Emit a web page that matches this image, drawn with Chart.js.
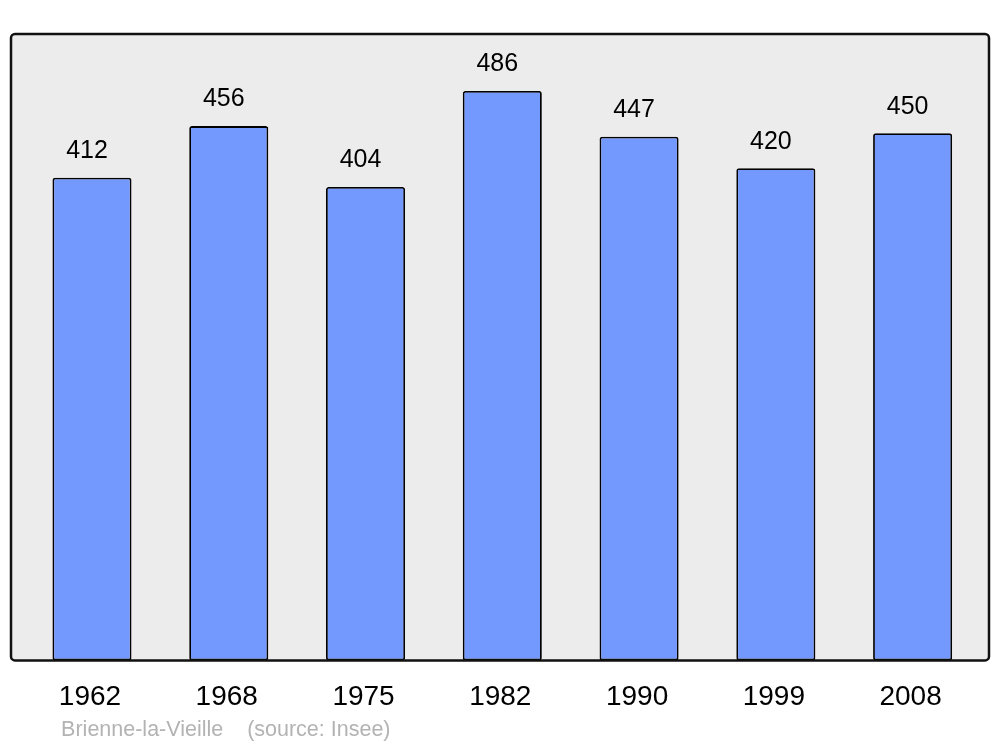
<!DOCTYPE html>
<html>
<head>
<meta charset="utf-8">
<script src="https://cdn.jsdelivr.net/npm/chart.js@4/dist/chart.umd.min.js"></script>
<style>
html,body{margin:0;padding:0;background:#fff;}
#c{display:block;}
</style>
</head>
<body>
<canvas id="c" width="1000" height="747"></canvas>
<script>
const years = ["1962","1968","1975","1982","1990","1999","2008"];
const population = [412, 456, 404, 486, 447, 420, 450];
const sourceText = "Brienne-la-Vieille    (source: Insee)";

const FONT = "'Liberation Sans', Arial, sans-serif";

const framePlugin = {
  id: 'frame',
  beforeDatasetsDraw(chart) {
    const {ctx, chartArea: a} = chart;
    ctx.save();
    const x0 = a.left - 12.6, x1 = a.right + 8;
    ctx.beginPath();
    ctx.roundRect(x0, a.top, x1 - x0, a.bottom - a.top, 4);
    ctx.fillStyle = '#ececec';
    ctx.fill();
    ctx.restore();
  },
  afterDatasetsDraw(chart) {
    const {ctx, chartArea: a} = chart;
    ctx.save();
    const x0 = a.left - 12.6, x1 = a.right + 8;
    ctx.beginPath();
    ctx.roundRect(x0, a.top, x1 - x0, a.bottom - a.top, 4);
    ctx.lineWidth = 2.5;
    ctx.strokeStyle = '#111';
    ctx.stroke();
    // value labels
    const meta = chart.getDatasetMeta(0);
    ctx.fillStyle = '#000';
    ctx.font = '25px ' + FONT;
    ctx.textAlign = 'center';
    ctx.textBaseline = 'middle';
    meta.data.forEach((bar, i) => {
      ctx.fillText(String(population[i]), bar.x - 5, bar.y - 26.5);
    });
    // source
    ctx.fillStyle = '#b3b3b3';
    ctx.font = '21.5px ' + FONT;
    ctx.textAlign = 'left';
    ctx.fillText(sourceText, a.left + 37.5, 730);
    ctx.restore();
  }
};

new Chart(document.getElementById('c'), {
  type: 'bar',
  data: {
    labels: years,
    datasets: [{
      data: population,
      backgroundColor: '#7399ff',
      borderColor: '#000',
      borderWidth: 1.8,
      borderRadius: 2.5,
      borderSkipped: false,
      barPercentage: 0.578,
      categoryPercentage: 1
    }]
  },
  options: {
    responsive: false,
    animation: false,
    devicePixelRatio: 1,
    layout: { padding: { left: 23.6, right: 19, top: 34, bottom: 21 } },
    plugins: { legend: { display: false }, tooltip: { enabled: false }, title: { display: false } },
    scales: {
      x: {
        grid: { display: false },
        border: { display: false },
        ticks: { color: '#000', font: { family: FONT, size: 28 }, padding: 12, labelOffset: -2, maxRotation: 0 }
      },
      y: {
        display: false,
        min: 0,
        max: 534.6
      }
    }
  },
  plugins: [framePlugin]
});
</script>
</body>
</html>
